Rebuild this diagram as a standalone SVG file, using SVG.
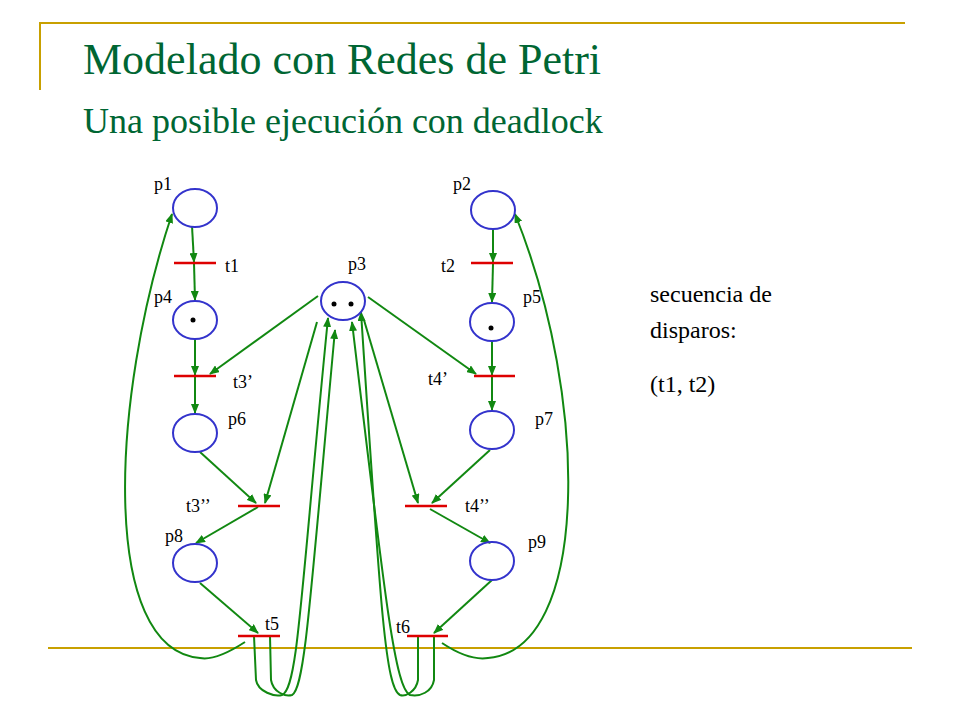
<svg xmlns="http://www.w3.org/2000/svg" width="960" height="720" viewBox="0 0 960 720">
<style>
text{font-family:'Liberation Serif','DejaVu Serif',serif}
.pl{fill:none;stroke:#3333cc;stroke-width:2}
.tr{stroke:#dd0000;stroke-width:2.5}
.a{fill:none;stroke:#118811;stroke-width:2;marker-end:url(#ar)}
.l{font-size:18px;fill:#000}
.gold{stroke:#c8a000;stroke-width:2}
</style>
<defs><marker id="ar" markerWidth="10" markerHeight="8" refX="9" refY="4" orient="auto" markerUnits="userSpaceOnUse"><path d="M0,0 L10,4 L0,8 z" fill="#118811"/></marker></defs>
<rect width="960" height="720" fill="#fff"/>
<line class="gold" x1="40" y1="22" x2="40" y2="90"/>
<line class="gold" x1="40" y1="23" x2="905" y2="23"/>
<line class="gold" x1="48" y1="648" x2="912" y2="648"/>
<text x="83" y="74" font-size="44" fill="#006633">Modelado con Redes de Petri</text>
<text x="83" y="133" font-size="36" fill="#006633">Una posible ejecución con deadlock</text>
<g font-size="24" fill="#000">
<text x="650" y="302">secuencia de</text><text x="650" y="338">disparos:</text><text x="650" y="392">(t1, t2)</text></g>
<g id="connectors">
<path class="a" d="M192,226 L194,262"/>
<path class="a" d="M194,263 L195,300"/>
<path class="a" d="M195,340 L195,375"/>
<path class="a" d="M195,377 L195,413"/>
<path class="a" d="M493,229 L493,262"/>
<path class="a" d="M493,264 L492,302"/>
<path class="a" d="M492,342 L492,375"/>
<path class="a" d="M492,377 L492,410"/>
<path class="a" d="M318,296 L210,374"/>
<path class="a" d="M368,297 L476,374"/>
<path class="a" d="M317,322 L265,503"/>
<path class="a" d="M364,320 L418,503"/>
<path class="a" d="M200,452 L256,503"/>
<path class="a" d="M490,450 L432,503"/>
<path class="a" d="M258,507 L196,543"/>
<path class="a" d="M430,509 L490,543"/>
<path class="a" d="M200,583 L258,633"/>
<path class="a" d="M492,580 L434,633"/>
<path class="a" d="M245,642 C225,655 210,660 200,658 C100,650 110,400 172,214"/>
<path class="a" d="M442,643 C460,655 475,660 488,658 C590,650 590,400 515,214"/>
<path class="a" d="M254,636 L256,680 C258,692 275,697 282,695 C298,688 300,600 328,318"/>
<path class="a" d="M270,636 L271,680 C273,692 285,697 292,695 C305,688 310,600 335,330"/>
<path class="a" d="M434,636 L434,680 C432,692 420,697 410,695 C395,688 385,600 352,322"/>
<path class="a" d="M418,636 L418,680 C416,692 405,697 400,695 C385,688 380,600 361,312"/>
</g>
<g id="p1"><ellipse class="pl" cx="195" cy="208" rx="22" ry="19"/><text class="l" x="154" y="190">p1</text></g>
<g id="p2"><ellipse class="pl" cx="493" cy="210" rx="22" ry="19"/><text class="l" x="453" y="190">p2</text></g>
<g id="p3"><ellipse class="pl" cx="343" cy="301" rx="22" ry="19"/><circle cx="334" cy="304" r="2.5"/><circle cx="351" cy="304" r="2.5"/><text class="l" x="348" y="270">p3</text></g>
<g id="p4"><ellipse class="pl" cx="195" cy="320" rx="22" ry="19"/><circle cx="193" cy="320" r="2.5"/><text class="l" x="154" y="303">p4</text></g>
<g id="p5"><ellipse class="pl" cx="492" cy="322" rx="22" ry="19"/><circle cx="491" cy="328" r="2.5"/><text class="l" x="523" y="303">p5</text></g>
<g id="p6"><ellipse class="pl" cx="195" cy="433" rx="22" ry="19"/><text class="l" x="228" y="425">p6</text></g>
<g id="p7"><ellipse class="pl" cx="492" cy="430" rx="22" ry="19"/><text class="l" x="535" y="425">p7</text></g>
<g id="p8"><ellipse class="pl" cx="195" cy="563" rx="22" ry="19"/><text class="l" x="165" y="542">p8</text></g>
<g id="p9"><ellipse class="pl" cx="492" cy="561" rx="22" ry="19"/><text class="l" x="528" y="548">p9</text></g>
<g id="t1"><line class="tr" x1="174" y1="263" x2="216" y2="263"/><text class="l" x="225" y="272">t1</text></g>
<g id="t2"><line class="tr" x1="471" y1="263" x2="513" y2="263"/><text class="l" x="441" y="272">t2</text></g>
<g id="t3p"><line class="tr" x1="174" y1="376" x2="216" y2="376"/><text class="l" x="233" y="388">t3’</text></g>
<g id="t4p"><line class="tr" x1="474" y1="376" x2="515" y2="376"/><text class="l" x="428" y="385">t4’</text></g>
<g id="t3pp"><line class="tr" x1="238" y1="506" x2="280" y2="506"/><text class="l" x="186" y="512">t3’’</text></g>
<g id="t4pp"><line class="tr" x1="405" y1="506" x2="447" y2="506"/><text class="l" x="465" y="512">t4’’</text></g>
<g id="t5"><line class="tr" x1="238" y1="636" x2="280" y2="636"/><text class="l" x="265" y="630">t5</text></g>
<g id="t6"><line class="tr" x1="407" y1="636" x2="448" y2="636"/><text class="l" x="396" y="633">t6</text></g>
</svg>
